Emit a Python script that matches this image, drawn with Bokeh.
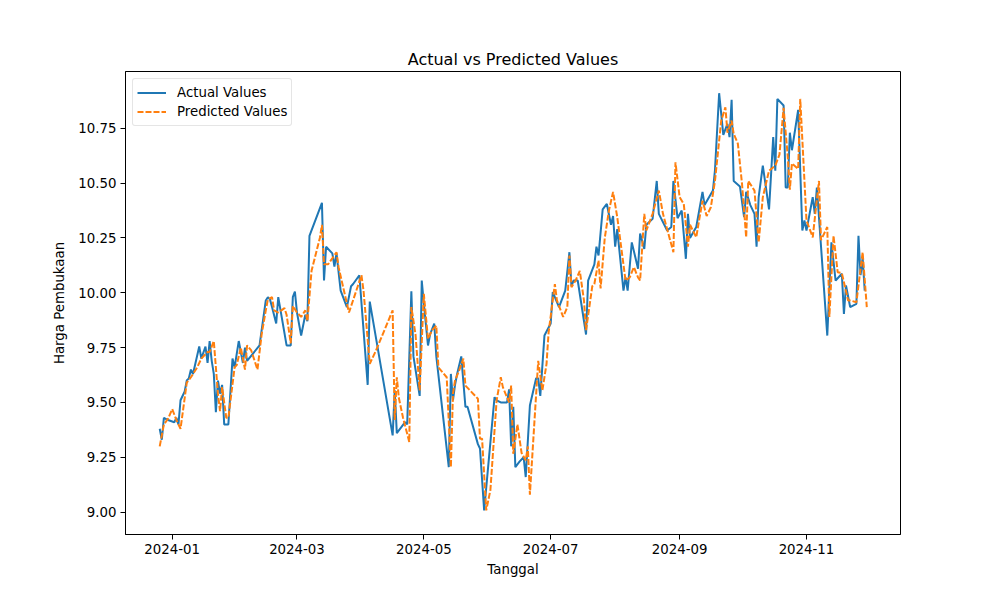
from datetime import datetime
import pandas as pd
from bokeh.plotting import figure
from bokeh.models import Range1d, FixedTicker, NumeralTickFormatter, DatetimeTickFormatter, Legend, LegendItem
from bokeh.embed import file_html
from bokeh.resources import INLINE

actual_dates = [
"2023-12-26","2023-12-27","2023-12-28","2023-12-30","2024-01-02","2024-01-03","2024-01-04","2024-01-05","2024-01-07","2024-01-08",
"2024-01-09","2024-01-10","2024-01-11","2024-01-14","2024-01-15","2024-01-17","2024-01-18","2024-01-19","2024-01-20","2024-01-21",
"2024-01-22","2024-01-23","2024-01-24","2024-01-25","2024-01-26","2024-01-28","2024-01-30","2024-01-31","2024-02-02","2024-02-03",
"2024-02-04","2024-02-05","2024-02-06","2024-02-12","2024-02-15","2024-02-16","2024-02-17","2024-02-18","2024-02-20","2024-02-21",
"2024-02-25","2024-02-27","2024-02-28","2024-02-29","2024-03-01","2024-03-03","2024-03-05","2024-03-06","2024-03-07","2024-03-13",
"2024-03-14","2024-03-15","2024-03-18","2024-03-19","2024-03-20","2024-03-22","2024-03-25","2024-03-27","2024-03-28","2024-03-31",
"2024-04-04","2024-04-05","2024-04-16","2024-04-17","2024-04-18","2024-04-22","2024-04-23","2024-04-25","2024-04-26","2024-04-29",
"2024-04-30","2024-05-01","2024-05-03","2024-05-04","2024-05-06","2024-05-07","2024-05-13","2024-05-14","2024-05-15","2024-05-16",
"2024-05-17","2024-05-19","2024-05-21","2024-05-22","2024-05-27","2024-05-28","2024-05-30","2024-06-04","2024-06-05","2024-06-07",
"2024-06-10","2024-06-11","2024-06-12","2024-06-13","2024-06-14","2024-06-16","2024-06-18","2024-06-19","2024-06-21","2024-06-24",
"2024-06-25","2024-06-26","2024-06-28","2024-07-01","2024-07-02","2024-07-03","2024-07-05","2024-07-08","2024-07-10","2024-07-11",
"2024-07-12","2024-07-14","2024-07-18","2024-07-19","2024-07-22","2024-07-23","2024-07-24","2024-07-26","2024-07-28","2024-07-30",
"2024-07-31","2024-08-01","2024-08-02","2024-08-05","2024-08-06","2024-08-07","2024-08-09","2024-08-12","2024-08-13","2024-08-15",
"2024-08-16","2024-08-19","2024-08-21","2024-08-22","2024-08-26","2024-08-28","2024-08-29","2024-08-31","2024-09-02","2024-09-04",
"2024-09-05","2024-09-06","2024-09-09","2024-09-12","2024-09-13","2024-09-17","2024-09-18","2024-09-20","2024-09-22","2024-09-24",
"2024-09-25","2024-09-26","2024-09-27","2024-09-30","2024-10-02","2024-10-03","2024-10-05","2024-10-07","2024-10-08","2024-10-09",
"2024-10-11","2024-10-14","2024-10-16","2024-10-17","2024-10-18","2024-10-21","2024-10-22","2024-10-23","2024-10-24","2024-10-25",
"2024-10-28","2024-10-30","2024-10-31","2024-11-01","2024-11-04","2024-11-05","2024-11-06","2024-11-11","2024-11-13","2024-11-15",
"2024-11-18","2024-11-19","2024-11-20","2024-11-22","2024-11-25","2024-11-26","2024-11-27","2024-11-28","2024-11-29"]

actual_values = [
9.38, 9.33, 9.43, 9.42, 9.41, 9.43, 9.40, 9.51, 9.55, 9.60,
9.61, 9.65, 9.63, 9.755, 9.70, 9.755, 9.68, 9.78, 9.69, 9.63,
9.456, 9.60, 9.54, 9.58, 9.40, 9.40, 9.70, 9.66, 9.78, 9.73,
9.68, 9.75, 9.69, 9.76, 9.965, 9.98, 9.97, 9.935, 9.86, 9.98,
9.76, 9.76, 9.98, 10.005, 9.91, 9.805, 9.90, 9.87, 10.26, 10.41,
10.056, 10.21, 10.18, 10.12, 10.18, 10.01, 9.935, 10.03, 10.04, 10.08,
9.58, 9.96, 9.35, 9.555, 9.36, 9.41, 9.40, 10.007, 9.71, 9.53,
10.056, 9.95, 9.76, 9.81, 9.86, 9.71, 9.205, 9.63, 9.51, 9.58,
9.63, 9.71, 9.48, 9.48, 9.31, 9.29, 9.008, 9.524, 9.51, 9.50,
9.50, 9.56, 9.30, 9.48, 9.205, 9.23, 9.25, 9.16, 9.486, 9.61,
9.61, 9.53, 9.805, 9.86, 10.003, 9.98, 9.935, 10.01, 10.185, 10.03,
10.056, 10.056, 9.81, 10.056, 10.13, 10.21, 10.17, 10.38, 10.405, 10.31,
10.35, 10.21, 10.29, 10.01, 10.07, 10.01, 10.23, 10.11, 10.27, 10.20,
10.31, 10.337, 10.51, 10.36, 10.284, 10.30, 10.51, 10.34, 10.375, 10.155,
10.36, 10.25, 10.30, 10.46, 10.40, 10.466, 10.56, 10.91, 10.72, 10.77,
10.71, 10.88, 10.51, 10.485, 10.345, 10.46, 10.40, 10.36, 10.21, 10.436,
10.58, 10.38, 10.71, 10.557, 10.884, 10.854, 10.48, 10.48, 10.73, 10.65,
10.834, 10.284, 10.33, 10.284, 10.436, 10.36, 10.48, 9.805, 10.23, 10.056,
10.087, 9.904, 10.033, 9.935, 9.95, 10.26, 10.08, 10.16, 10.01]

predicted_dates = [
"2023-12-26","2023-12-28","2023-12-30","2024-01-01","2024-01-03","2024-01-05","2024-01-08","2024-01-10","2024-01-13","2024-01-15",
"2024-01-18","2024-01-19","2024-01-21","2024-01-23","2024-01-24","2024-01-25","2024-01-27","2024-01-28","2024-01-31","2024-02-01",
"2024-02-03","2024-02-05","2024-02-06","2024-02-08","2024-02-11","2024-02-13","2024-02-15","2024-02-16","2024-02-18","2024-02-19",
"2024-02-21","2024-02-24","2024-02-25","2024-02-27","2024-02-28","2024-03-01","2024-03-03","2024-03-05","2024-03-06","2024-03-08",
"2024-03-12","2024-03-13","2024-03-14","2024-03-16","2024-03-20","2024-03-21","2024-03-26","2024-04-01","2024-04-02","2024-04-05",
"2024-04-08","2024-04-16","2024-04-17","2024-04-18","2024-04-19","2024-04-21","2024-04-24","2024-04-25","2024-04-27","2024-04-29",
"2024-05-01","2024-05-03","2024-05-05","2024-05-07","2024-05-08","2024-05-12","2024-05-14","2024-05-15","2024-05-16","2024-05-18",
"2024-05-20","2024-05-21","2024-05-27","2024-05-28","2024-05-29","2024-05-31","2024-06-02","2024-06-05","2024-06-07","2024-06-08",
"2024-06-11","2024-06-12","2024-06-13","2024-06-15","2024-06-17","2024-06-19","2024-06-20","2024-06-21","2024-06-25","2024-06-27",
"2024-06-29","2024-06-30","2024-07-03","2024-07-04","2024-07-07","2024-07-09","2024-07-10","2024-07-11","2024-07-13","2024-07-15",
"2024-07-17","2024-07-18","2024-07-21","2024-07-22","2024-07-24","2024-07-25","2024-07-27","2024-07-29","2024-07-31","2024-08-02",
"2024-08-06","2024-08-08","2024-08-10","2024-08-12","2024-08-13","2024-08-15","2024-08-16","2024-08-19","2024-08-22","2024-08-24",
"2024-08-26","2024-08-29","2024-08-30","2024-09-01","2024-09-03","2024-09-05","2024-09-06","2024-09-09","2024-09-10","2024-09-12",
"2024-09-14","2024-09-16","2024-09-18","2024-09-21","2024-09-23","2024-09-24","2024-09-26","2024-09-27","2024-09-29","2024-10-01",
"2024-10-03","2024-10-04","2024-10-07","2024-10-09","2024-10-11","2024-10-14","2024-10-17","2024-10-19","2024-10-21","2024-10-23",
"2024-10-24","2024-10-25","2024-10-28","2024-10-29","2024-11-01","2024-11-04","2024-11-07","2024-11-08","2024-11-11","2024-11-12",
"2024-11-14","2024-11-16","2024-11-18","2024-11-21","2024-11-22","2024-11-25","2024-11-28","2024-11-30"]

predicted_values = [
9.30, 9.40, 9.426, 9.47, 9.42, 9.38, 9.59, 9.615, 9.66, 9.70,
9.73, 9.73, 9.78, 9.54, 9.46, 9.57, 9.43, 9.43, 9.66, 9.67,
9.75, 9.65, 9.76, 9.737, 9.65, 9.81, 9.92, 9.97, 9.98, 9.92,
9.91, 9.93, 9.90, 9.77, 9.94, 9.91, 9.89, 9.92, 9.87, 10.10,
10.25, 10.31, 10.13, 10.13, 10.185, 10.117, 9.91, 10.08, 10.01, 9.676,
9.737, 9.92, 9.42, 9.615, 9.52, 9.43, 9.32, 9.935, 9.81, 9.555,
9.995, 9.79, 9.83, 9.85, 9.66, 9.615, 9.205, 9.54, 9.60, 9.646,
9.70, 9.577, 9.517, 9.335, 9.335, 9.008, 9.10, 9.51, 9.615, 9.57,
9.50, 9.577, 9.266, 9.40, 9.27, 9.236, 9.30, 9.08, 9.69, 9.555,
9.676, 9.82, 10.04, 9.965, 9.89, 9.935, 10.17, 10.026, 10.056, 10.10,
9.965, 9.83, 10.03, 10.04, 10.147, 10.02, 10.25, 10.375, 10.46, 10.345,
10.056, 10.07, 10.117, 10.07, 10.056, 10.36, 10.284, 10.36, 10.466, 10.36,
10.29, 10.185, 10.595, 10.436, 10.405, 10.21, 10.31, 10.253, 10.31, 10.42,
10.35, 10.39, 10.51, 10.785, 10.846, 10.73, 10.785, 10.725, 10.68, 10.497,
10.253, 10.51, 10.466, 10.23, 10.436, 10.557, 10.58, 10.63, 10.843, 10.62,
10.47, 10.59, 10.565, 10.884, 10.33, 10.253, 10.51, 10.24, 10.30, 9.89,
10.26, 10.094, 10.09, 9.965, 9.965, 9.957, 10.185, 9.935]

x_tick_labels = ["2024-01", "2024-03", "2024-05", "2024-07", "2024-09", "2024-11"]
y_ticks = [9.00, 9.25, 9.50, 9.75, 10.00, 10.25, 10.50, 10.75]

FONT = "DejaVu Sans"

p = figure(width=984, height=584, output_backend="svg", toolbar_location=None,
           x_axis_type="datetime",
           min_border_left=125, min_border_right=84, min_border_top=71, min_border_bottom=50,
           x_range=Range1d(datetime(2023, 12, 9, 13), datetime(2024, 12, 16, 5)),
           y_range=Range1d(8.898, 11.009))

p.title.text = "Actual vs Predicted Values"
p.title.align = "center"
p.title.text_font = FONT
p.title.text_font_size = "12pt"
p.title.text_font_style = "normal"
p.title.text_color = "black"
p.title.standoff = 6

p.xgrid.visible = False
p.ygrid.visible = False
p.outline_line_color = "black"
p.outline_line_width = 1
p.outline_line_alpha = 1

xa = pd.to_datetime(actual_dates)
xp = pd.to_datetime(predicted_dates)

r1 = p.line(xa, actual_values, line_color="#1f77b4", line_width=2)
r2 = p.line(xp, predicted_values, line_color="#ff7f0e", line_width=2, line_dash="6 2")

tick_ms = [pd.Timestamp(t + "-01").value // 10**6 for t in x_tick_labels]
p.xaxis.ticker = FixedTicker(ticks=tick_ms)
fmt = "%Y-%m"
p.xaxis.formatter = DatetimeTickFormatter(years=fmt, months=fmt, days=fmt, hours=fmt,
                                          minutes=fmt, seconds=fmt, milliseconds=fmt,
                                          microseconds=fmt, hourmin=fmt, minsec=fmt)
p.yaxis.ticker = FixedTicker(ticks=y_ticks)
p.yaxis.formatter = NumeralTickFormatter(format="0.00")

for ax in (p.xaxis[0], p.yaxis[0]):
    ax.axis_line_color = "black"
    ax.major_tick_line_color = "black"
    ax.major_tick_out = 5
    ax.major_tick_in = 0
    ax.minor_tick_out = 0
    ax.minor_tick_in = 0
    ax.major_label_text_font = FONT
    ax.major_label_text_font_size = "10pt"
    ax.major_label_text_color = "black"
    ax.axis_label_text_font = FONT
    ax.axis_label_text_font_size = "10pt"
    ax.axis_label_text_font_style = "normal"
    ax.axis_label_text_color = "black"
    ax.major_label_standoff = 4

p.xaxis.axis_label = "Tanggal"
p.yaxis.axis_label = "Harga Pembukaan"
p.xaxis.axis_label_standoff = 5
p.yaxis.axis_label_standoff = 8

legend = Legend(items=[LegendItem(label="Actual Values", renderers=[r1]),
                       LegendItem(label="Predicted Values", renderers=[r2])],
                location="top_left")
legend.margin = 7
legend.padding = 4
legend.spacing = 0
legend.label_text_font = FONT
legend.label_text_font_size = "10pt"
legend.label_text_color = "black"
legend.glyph_width = 29
legend.glyph_height = 19
legend.label_height = 19
legend.label_standoff = 11
legend.border_line_color = "#cccccc"
legend.border_line_width = 1
legend.border_radius = 3
legend.background_fill_alpha = 0.8
p.add_layout(legend)

open("out.html", "w").write(file_html(p, INLINE))
